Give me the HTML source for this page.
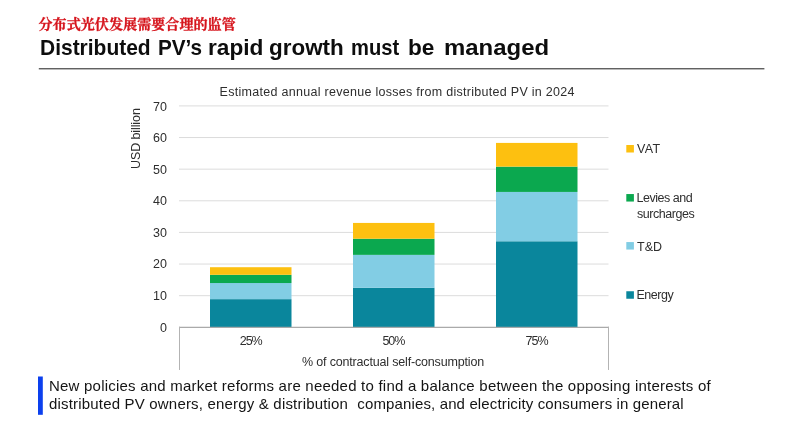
<!DOCTYPE html>
<html><head><meta charset="utf-8">
<style>
html,body{margin:0;padding:0;background:#fff;}
body{width:800px;height:424px;position:relative;overflow:hidden;font-family:"Liberation Sans",sans-serif;}
svg{position:absolute;left:0;top:0;}
.t{position:absolute;white-space:nowrap;font-size:12.5px;line-height:16px;color:#2e2e2e;}
#cn{position:absolute;white-space:nowrap;left:38.5px;top:14px;font-family:"Liberation Serif","Noto Serif CJK SC",serif;font-weight:700;font-size:14.1px;color:#d6151d;line-height:20px;letter-spacing:0px;-webkit-text-stroke:0.3px #d6151d;}
#en{position:absolute;left:0;top:33.0px;height:30px;font-weight:bold;font-size:22px;line-height:30px;color:#0d0d0d;}
#en span{position:absolute;top:0;white-space:nowrap;transform-origin:0 50%;}
#yt{position:absolute;left:128px;top:169px;transform-origin:0 0;transform:rotate(-90deg);white-space:nowrap;font-size:12.5px;line-height:16px;color:#2e2e2e;letter-spacing:-0.1px;}
.b{position:absolute;white-space:nowrap;left:49px;font-size:15px;line-height:20px;color:#141414;}
</style></head><body>
<svg width="800" height="424" viewBox="0 0 800 424" shape-rendering="auto">
<rect x="179" y="295.17" width="429.5" height="1" fill="#dcdcdc"/>
<rect x="179" y="263.54" width="429.5" height="1" fill="#dcdcdc"/>
<rect x="179" y="231.91" width="429.5" height="1" fill="#dcdcdc"/>
<rect x="179" y="200.29" width="429.5" height="1" fill="#dcdcdc"/>
<rect x="179" y="168.66" width="429.5" height="1" fill="#dcdcdc"/>
<rect x="179" y="137.03" width="429.5" height="1" fill="#dcdcdc"/>
<rect x="179" y="105.40" width="429.5" height="1" fill="#dcdcdc"/>
<rect x="210.0" y="299.15" width="81.5" height="28.15" fill="#0a869c"/>
<rect x="210.0" y="283.02" width="81.5" height="16.13" fill="#82cde4"/>
<rect x="210.0" y="274.80" width="81.5" height="8.22" fill="#0ba84f"/>
<rect x="210.0" y="267.21" width="81.5" height="7.59" fill="#fdc010"/>
<rect x="353.0" y="287.76" width="81.5" height="39.54" fill="#0a869c"/>
<rect x="353.0" y="254.87" width="81.5" height="32.89" fill="#82cde4"/>
<rect x="353.0" y="238.74" width="81.5" height="16.13" fill="#0ba84f"/>
<rect x="353.0" y="222.93" width="81.5" height="15.81" fill="#fdc010"/>
<rect x="496.0" y="241.27" width="81.5" height="86.03" fill="#0a869c"/>
<rect x="496.0" y="191.93" width="81.5" height="49.34" fill="#82cde4"/>
<rect x="496.0" y="166.63" width="81.5" height="25.30" fill="#0ba84f"/>
<rect x="496.0" y="142.91" width="81.5" height="23.72" fill="#fdc010"/>
<rect x="179" y="326.75" width="430" height="1.2" fill="#a6a6a6"/>
<rect x="179" y="326.75" width="1" height="43.2" fill="#b3b3b3"/>
<rect x="608" y="326.75" width="1" height="43.2" fill="#b3b3b3"/>
<rect x="626.3" y="145.0" width="7.6" height="7.5" fill="#fdc010"/>
<rect x="626.3" y="194.05" width="7.6" height="7.5" fill="#0ba84f"/>
<rect x="626.3" y="242.05" width="7.6" height="7.5" fill="#82cde4"/>
<rect x="626.3" y="291.25" width="7.6" height="7.5" fill="#0a869c"/>
<rect x="38" y="376.5" width="4.8" height="38.3" fill="#0c40ee"/>
<rect x="38.8" y="68.1" width="725.6" height="1.3" fill="#505050"/>
</svg>
<div id="cn">分布式光伏发展需要合理的监管</div>
<div id="en"><span style="left:39.7px;transform:scaleX(0.9532)">Distributed</span><span style="left:158px;transform:scaleX(0.9412)">PV’s</span><span style="left:207.5px;transform:scaleX(1.0306)">rapid</span><span style="left:269px;transform:scaleX(1.0196)">growth</span><span style="left:351px;transform:scaleX(0.9162)">must</span><span style="left:408px;transform:scaleX(1.027)">be</span><span style="left:444px;transform:scaleX(1.0879)">managed</span></div>
<div id="ct" class="t" style="left:219.6px;top:83.6px;letter-spacing:0.285px;">Estimated annual revenue losses from distributed PV in 2024</div>
<div id="y70" class="t" style="left:153px;top:98.5px;letter-spacing:0px;">70</div>
<div id="y60" class="t" style="left:153px;top:130.0px;letter-spacing:0px;">60</div>
<div id="y50" class="t" style="left:153px;top:161.5px;letter-spacing:0px;">50</div>
<div id="y40" class="t" style="left:153px;top:193.2px;letter-spacing:0px;">40</div>
<div id="y30" class="t" style="left:153px;top:224.8px;letter-spacing:0px;">30</div>
<div id="y20" class="t" style="left:153px;top:256.4px;letter-spacing:0px;">20</div>
<div id="y10" class="t" style="left:153px;top:287.9px;letter-spacing:0px;">10</div>
<div id="y0" class="t" style="left:160px;top:319.5px;letter-spacing:0px;">0</div>
<div id="x25" class="t" style="left:239.7px;top:333px;letter-spacing:-1px;">25%</div>
<div id="x50" class="t" style="left:382.4px;top:333px;letter-spacing:-1px;">50%</div>
<div id="x75" class="t" style="left:525.6px;top:333px;letter-spacing:-1px;">75%</div>
<div id="xt" class="t" style="left:302px;top:354px;letter-spacing:-0.17px;">% of contractual self-consumption</div>
<div id="l1" class="t" style="left:637px;top:141.2px;letter-spacing:0.4px;">VAT</div>
<div id="l2" class="t" style="left:636.6px;top:190px;letter-spacing:-0.49px;">Levies and</div>
<div id="l3" class="t" style="left:637px;top:206px;letter-spacing:-0.45px;">surcharges</div>
<div id="l4" class="t" style="left:637px;top:238.5px;letter-spacing:0px;">T&amp;D</div>
<div id="l5" class="t" style="left:636.5px;top:286.6px;letter-spacing:-0.48px;">Energy</div>
<div id="yt">USD billion</div>
<div id="b1" class="b" style="top:376.4px;letter-spacing:0.22px">New policies and market reforms are needed to find a balance between the opposing interests of</div>
<div id="b2" class="b" style="top:394.4px;letter-spacing:0.185px">distributed PV owners, energy &amp; distribution</div>
<div id="b3" class="b" style="left:357.3px;top:394.4px;letter-spacing:0.135px">companies, and electricity consumers in general</div>
</body></html>
